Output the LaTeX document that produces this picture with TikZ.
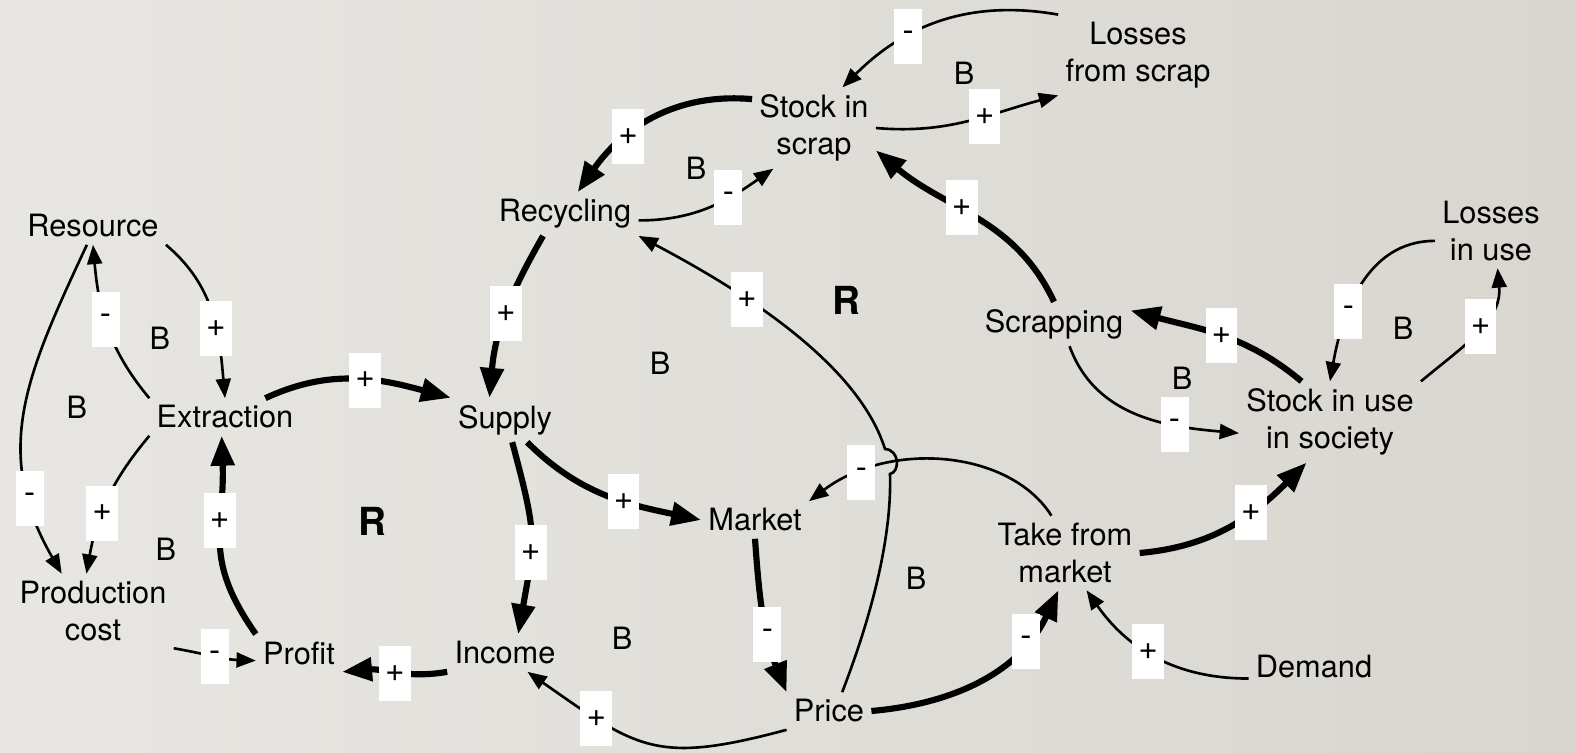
\documentclass[tikz,border=0pt]{standalone}
\usepackage{fontspec}
\setmainfont{TeX Gyre Heros}
\usetikzlibrary{arrows.meta,positioning,calc}
\definecolor{bgleft}{HTML}{E7E6E2}
\definecolor{bgright}{HTML}{D9D6D0}

\begin{document}
\begin{tikzpicture}[
    x=0.02cm, y=-0.02cm,
    % Base styles
    var/.style={font=\fontsize{17.5}{21}\selectfont, align=center, inner sep=4pt},
    sgn/.style={fill=white, font=\fontsize{19}{21}\selectfont, minimum width=0.56cm, minimum height=1.1cm, inner xsep=3.5pt, inner ysep=0pt},
    loopb/.style={font=\fontsize{17.5}{21}\selectfont},
    loopr/.style={font=\fontsize{22}{24}\selectfont\bfseries},
    % Arrows
    lnk/.style={line width=1.5pt, -{Triangle[length=11pt,width=8.5pt]}},
    strong/.style={line width=3.5pt, -{Triangle[length=17pt,width=13pt]}}
]

% === BACKGROUND ===
\shade[left color=bgleft, right color=bgright] (0,0) rectangle (1576,753);
\useasboundingbox (0,0) rectangle (1576,753);

% === VARIABLES ===
\node[var] (resource) at (93,226) {Resource};
\node[var] (extraction) at (225,417) {Extraction};
\node[var] (pc) at (93,611) {Production\\cost};
\node[var] (profit) at (299,653) {Profit};
\node[var] (income) at (505,653) {Income};
\node[var] (supply) at (505,420) {Supply};
\node[var] (recycling) at (565,214) {Recycling};
\node[var] (sis) at (814,128) {Stock in\\scrap};
\node[var] (lfs) at (1138,55) {Losses\\from scrap};
\node[var] (scrapping) at (1054,324) {Scrapping};
\node[var] (liu) at (1491,231) {Losses\\in use};
\node[var] (siu) at (1330,422) {Stock in use\\in society};
\node[var] (market) at (755,520) {Market};
\node[var] (tfm) at (1065,553) {Take from\\market};
\node[var] (price) at (829,711) {Price};
\node[var] (demand) at (1314,667) {Demand};

% === LOOP LABELS ===
\node[loopr] (r1) at (372,521) {R};
\node[loopr] (r2) at (846,300) {R};
\node[loopb] (b1) at (160,338) {B};
\node[loopb] (b2) at (77,407) {B};
\node[loopb] (b3) at (166,549) {B};
\node[loopb] (b4) at (696,168) {B};
\node[loopb] (b5) at (964,73) {B};
\node[loopb] (b6) at (660,363) {B};
\node[loopb] (b7) at (622,638) {B};
\node[loopb] (b8) at (916,578) {B};
\node[loopb] (b9) at (1182,378) {B};
\node[loopb] (b10) at (1403,328) {B};

% === LEFT PART: RESOURCE AND PRODUCTION ===
\draw[lnk] (extraction.north west) to[out=130,in=-85] node[sgn,pos=.55] (s1) {-} (resource.south);
\draw[lnk] (resource.south east) to[out=-40,in=95] node[sgn,pos=.6] (s2) {+} (extraction.north);
\draw[lnk] (resource.-108) to[out=-115,in=120,looseness=1.1] node[sgn,pos=.78] (s3) {-} (pc.130);
\draw[lnk] (extraction.south west) to[out=-130,in=80] node[sgn,pos=.6] (s4) {+} (pc.100);
\draw[lnk] (pc.south east) to[out=-10,in=178] node[sgn,pos=.5] (s5) {-} (profit.190);
\draw[strong] (profit.north west) to[out=125,in=-88,looseness=1.2] node[sgn,pos=.62] (s6) {+} (extraction.-100);
\draw[strong] (income.south west) to[out=190,in=5] node[sgn,pos=.5] (s7) {+} (profit.south east);
\draw[strong] (extraction.25) to[out=25,in=165] node[sgn,pos=.55] (s8) {+} (supply.north west);

% === MIDDLE PART: MARKET ===
\draw[strong] (recycling.-135) to[out=-120,in=85] node[sgn,pos=.5] (s9) {+} (supply.125);
\draw[strong] (supply.-72) to[out=-75,in=80,looseness=1.3] node[sgn,pos=.6] (s10) {+} (income.55);
\draw[strong] (supply.-45) to[out=-45,in=168] node[sgn,pos=.6] (s11) {+} (market.west);
\draw[strong] (market.south) to[out=-86,in=112] node[sgn,pos=.62] (s12) {-} (price.north west);
\draw[lnk] (price.south west) to[out=-165,in=-35,looseness=1.3] node[sgn,pos=.75] (s13) {+} (income.-40);
\draw[strong] (price.east) to[out=5,in=-115] node[sgn,pos=.75] (s14) {-} (tfm.-100);
\draw[lnk] (demand.190) to[out=180,in=-55] node[sgn,pos=.55] (s15) {+} (tfm.-60);
\draw[lnk] (tfm.110) .. controls (1010,450) and (890,440) .. (market.north east) node[sgn,pos=.8] (s16) {-};
% price to recycling, hops over the market link
\draw[lnk] (price.55) .. controls (870,620) and (892,540) .. (890,474)
    .. controls (900,472) and (900,450) .. (885,449)
    .. controls (860,370) and (760,300) .. (recycling.south east) node[sgn,pos=.68] (s17) {+};

% === UPPER PART: SCRAP ===
\draw[lnk] (recycling.-5) to[out=0,in=-145] node[sgn,pos=.65] (s18) {-} (sis.-135);
\draw[strong] (sis.155) to[out=175,in=55] node[sgn,pos=.65] (s19) {+} (recycling.60);
\draw[lnk] (sis.east) to[out=-5,in=195] node[sgn,pos=.6] (s20) {+} (lfs.south west);
\draw[lnk] (lfs.north west) to[out=170,in=45] node[sgn,pos=.66] (s21) {-} (sis.55);
\draw[strong] (scrapping.north) to[out=115,in=-40] node[sgn,pos=.58] (s22) {+} (sis.-20);

% === RIGHT PART: STOCK IN USE ===
\draw[strong] (siu.125) to[out=140,in=-15] node[sgn,pos=.5] (s23) {+} (scrapping.10);
\draw[lnk] (scrapping.-55) to[out=-70,in=175] node[sgn,pos=.7] (s24) {-} (siu.187);
\draw[lnk] (liu.190) to[out=180,in=80] node[sgn,pos=.65] (s25) {-} (siu.north);
\draw[lnk] (siu.north east) to[out=40,in=-85] node[sgn,pos=.55] (s26) {+} (liu.-80);
\draw[strong] (tfm.east) to[out=5,in=-135] node[sgn,pos=.63] (s27) {+} (siu.-120);

\end{tikzpicture}
\end{document}
